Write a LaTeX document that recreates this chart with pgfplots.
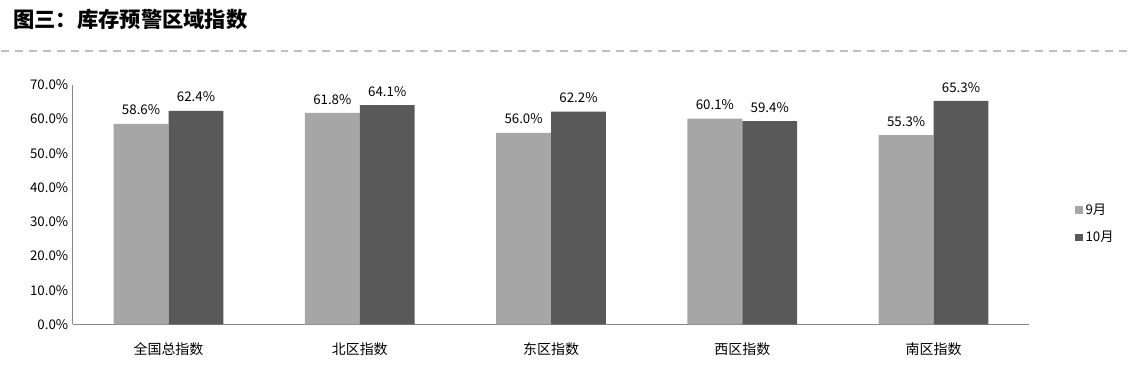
\documentclass[border=0pt]{standalone}
\usepackage{pgfplots}
\pgfplotsset{compat=1.18}
\usepackage{fontspec}
\setmainfont{Noto Sans CJK SC}
\definecolor{barA}{HTML}{A6A6A6}
\definecolor{barB}{HTML}{595959}
\definecolor{axisgray}{HTML}{868686}
\definecolor{dashgray}{HTML}{BFBFBF}
\begin{document}
\begin{tikzpicture}
\begin{axis}[
  name=ax,
  at={(0pt,0pt)}, anchor=south west,
  scale only axis, width=718.5pt, height=180pt,
  xmin=-0.5, xmax=4.5, ymin=0, ymax=70,
  ybar=0pt, bar width=41.25pt,
  axis lines*=left,
  axis line style={axisgray,line width=0.75pt},
  xtick={0,1,2,3,4},
  xticklabels={全国总指数,北区指数,东区指数,西区指数,南区指数},
  xticklabel style={font=\fontsize{10.5}{12}\selectfont, yshift=-10pt},
  ytick={0,10,...,70},
  yticklabel={\pgfmathprintnumber[fixed,fixed zerofill,precision=1,assume math mode=true]{\tick}\%},
  yticklabel style={font=\fontsize{10}{12}\selectfont},
  major tick length=0pt,
  /pgf/number format/assume math mode=true,
  nodes near coords={\pgfmathprintnumber[fixed,fixed zerofill,precision=1,assume math mode=true]{\pgfplotspointmeta}\%},
  nodes near coords style={font=\fontsize{10}{12}\selectfont, black, yshift=3pt},
  legend cell align=left,
  legend style={at={(1.0438,0.42)}, anchor=west, draw=none, fill=none,
     font=\fontsize{10}{12}\selectfont, row sep=7pt,
     /tikz/every even column/.append style={column sep=0pt}},
  legend image code/.code={\fill[#1] (0cm,-0.1cm) rectangle (0.2cm,0.1cm);},
  clip=false,
]
\addplot[fill=barA, draw=none] coordinates {(0,58.6) (1,61.8) (2,56.0) (3,60.1) (4,55.3)};
\addplot[fill=barB, draw=none] coordinates {(0,62.4) (1,64.1) (2,62.2) (3,59.4) (4,65.3)};
\legend{9月,10月}
\end{axis}
\begin{scope}[x=0.75pt,y=0.75pt]
\node[anchor=west,font=\fontsize{16}{18}\selectfont\bfseries,inner sep=0pt] at (-60,306) {图三：库存预警区域指数};
\draw[dashgray,line width=1.5pt,dash pattern=on 6pt off 4.5pt] (-72,274) -- (1057,274);
\path[use as bounding box] (-72,-60) rectangle (1057,325);
\end{scope}
\end{tikzpicture}
\end{document}
